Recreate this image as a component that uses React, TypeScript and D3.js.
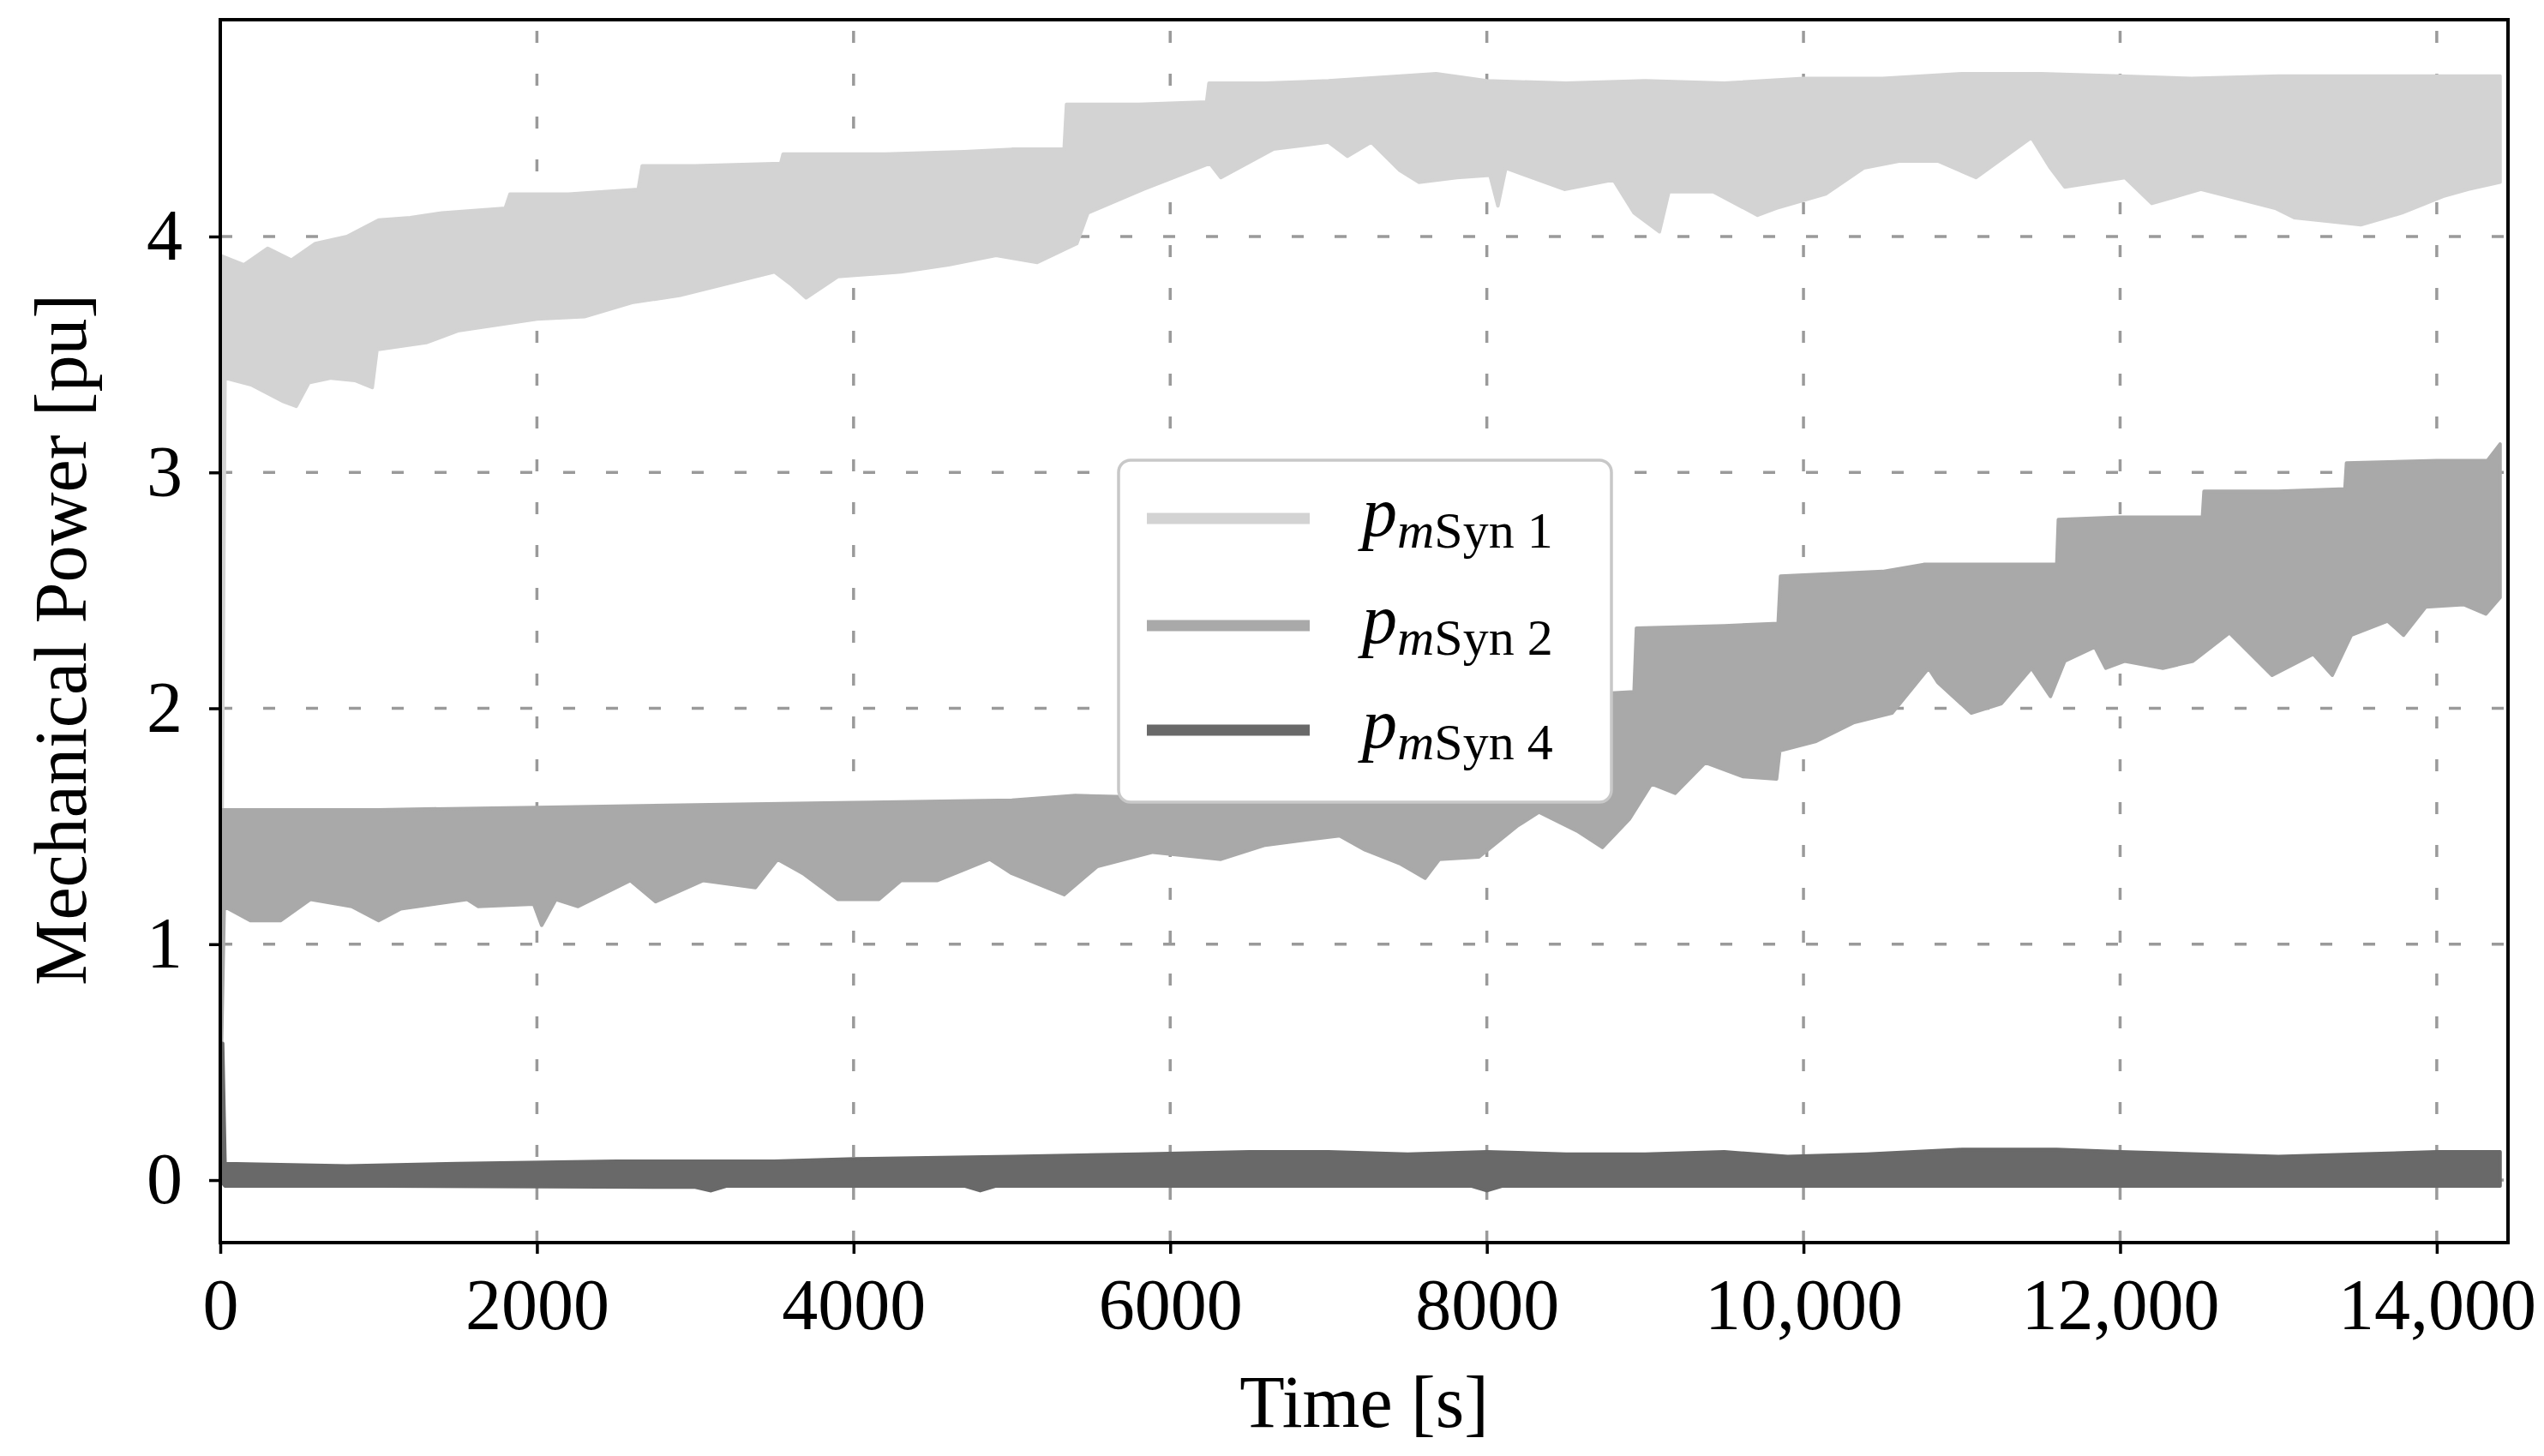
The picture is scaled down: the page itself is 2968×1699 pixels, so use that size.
import React, { useEffect, useRef } from "react";
import * as d3 from "d3";

type Pt = [number, number];

// axis ticks
const xTicks = [0, 2000, 4000, 6000, 8000, 10000, 12000, 14000];
const xTickLabels = ["0", "2000", "4000", "6000", "8000", "10,000", "12,000", "14,000"];
const yTicks = [0, 1, 2, 3, 4];

const seriesNames = ["Syn 1", "Syn 2", "Syn 4"];
const seriesColors = ["#d3d3d3", "#a9a9a9", "#696969"];

// envelopes of the bundle of traces, [time s, power pu]
const syn1Upper: Pt[] = [
  [0, 3.92], [150, 3.88], [300, 3.95], [450, 3.9], [600, 3.97], [800, 4.0], [1000, 4.07],
  [1200, 4.08], [1400, 4.1], [1800, 4.12], [1830, 4.18], [2200, 4.18], [2640, 4.2],
  [2665, 4.3], [3000, 4.3], [3540, 4.31], [3555, 4.35], [4200, 4.35], [4700, 4.36],
  [5000, 4.37], [5330, 4.37], [5345, 4.56], [5800, 4.56], [6230, 4.57], [6245, 4.65],
  [6600, 4.65], [7000, 4.66], [7680, 4.69], [8000, 4.66], [8500, 4.65], [9000, 4.66],
  [9500, 4.65], [10000, 4.67], [10500, 4.67], [11000, 4.69], [11500, 4.69], [12000, 4.68],
  [12450, 4.67], [13000, 4.68], [13500, 4.68], [14000, 4.68], [14400, 4.68],
];
const syn1Lower: Pt[] = [
  [0, 0.3], [30, 3.4], [200, 3.37], [400, 3.3], [480, 3.28], [560, 3.38], [700, 3.4],
  [850, 3.39], [960, 3.36], [990, 3.52], [1300, 3.55], [1500, 3.6], [1700, 3.62],
  [2000, 3.65], [2300, 3.66], [2600, 3.72], [2900, 3.75], [3200, 3.8], [3500, 3.85],
  [3600, 3.8], [3700, 3.74], [3900, 3.83], [4300, 3.85], [4600, 3.88], [4900, 3.92],
  [5160, 3.89], [5410, 3.97], [5480, 4.1], [5830, 4.2], [6250, 4.31], [6320, 4.25],
  [6650, 4.37], [7000, 4.4], [7120, 4.34], [7270, 4.4], [7450, 4.28], [7570, 4.23],
  [7810, 4.25], [8020, 4.26], [8070, 4.13], [8120, 4.29], [8490, 4.2], [8800, 4.24],
  [8930, 4.1], [9090, 4.02], [9150, 4.19], [9430, 4.19], [9710, 4.09], [9830, 4.12],
  [10140, 4.18], [10380, 4.29], [10610, 4.32], [10850, 4.32], [11090, 4.25], [11440, 4.42],
  [11560, 4.29], [11650, 4.21], [12030, 4.25], [12200, 4.14], [12510, 4.2], [12980, 4.12],
  [13100, 4.08], [13520, 4.05], [13780, 4.1], [14040, 4.17], [14200, 4.2], [14400, 4.23],
];

const syn2Upper: Pt[] = [
  [0, 1.57], [1000, 1.57], [2000, 1.58], [3000, 1.59], [4000, 1.6], [5000, 1.61],
  [5400, 1.63], [6000, 1.62], [6800, 1.62], [7600, 1.62], [8300, 1.62], [8400, 2.05],
  [8930, 2.07], [8945, 2.34], [9500, 2.35], [9840, 2.36], [9855, 2.56], [10500, 2.58],
  [10760, 2.61], [11600, 2.61], [11610, 2.8], [12000, 2.81], [12520, 2.81], [12530, 2.92],
  [13000, 2.92], [13420, 2.93], [13430, 3.04], [14000, 3.05], [14320, 3.05], [14400, 3.12],
];
const syn2Lower: Pt[] = [
  [0, 0.3], [25, 1.16], [190, 1.1], [380, 1.1], [570, 1.19], [830, 1.16], [1000, 1.1],
  [1140, 1.15], [1560, 1.19], [1630, 1.16], [1980, 1.17], [2030, 1.08], [2120, 1.19],
  [2260, 1.16], [2590, 1.27], [2750, 1.18], [3050, 1.27], [3380, 1.24], [3520, 1.36],
  [3680, 1.3], [3900, 1.19], [4160, 1.19], [4300, 1.27], [4530, 1.27], [4860, 1.36],
  [5000, 1.3], [5330, 1.21], [5540, 1.33], [5890, 1.39], [6320, 1.36], [6600, 1.42],
  [7070, 1.46], [7230, 1.4], [7456, 1.34], [7610, 1.28], [7700, 1.36], [7950, 1.37],
  [8190, 1.5], [8330, 1.56], [8570, 1.48], [8730, 1.41], [8900, 1.53], [9040, 1.68],
  [9190, 1.64], [9380, 1.77], [9620, 1.71], [9830, 1.7], [9850, 1.82], [10080, 1.86],
  [10320, 1.94], [10560, 1.98], [10790, 2.17], [10848, 2.11], [11060, 1.98], [11250, 2.02],
  [11440, 2.17], [11560, 2.05], [11650, 2.2], [11840, 2.26], [11910, 2.17], [12030, 2.2],
  [12270, 2.17], [12460, 2.2], [12690, 2.32], [12960, 2.14], [13220, 2.23], [13340, 2.14],
  [13460, 2.31], [13690, 2.37], [13790, 2.31], [13930, 2.43], [14170, 2.44], [14310, 2.4],
  [14400, 2.47],
];

const syn4Upper: Pt[] = [
  [0, 0.58], [15, 0.58], [30, 0.07], [800, 0.06], [1500, 0.07], [2500, 0.08], [3500, 0.08],
  [4000, 0.09], [5000, 0.1], [5800, 0.11], [6500, 0.12], [7000, 0.12], [7500, 0.11],
  [8000, 0.12], [8500, 0.11], [9000, 0.11], [9500, 0.12], [9900, 0.1], [10400, 0.11],
  [11000, 0.13], [11600, 0.13], [12000, 0.12], [12500, 0.11], [13000, 0.1], [13500, 0.11],
  [14000, 0.12], [14400, 0.12],
];
const syn4Lower: Pt[] = [
  [0, 0], [30, -0.025], [1000, -0.025], [3000, -0.03], [3100, -0.045], [3200, -0.025],
  [4700, -0.025], [4800, -0.045], [4900, -0.025], [7900, -0.025], [8000, -0.045], [8100, -0.025],
  [14400, -0.025],
];

const bands: [Pt[], Pt[]][] = [
  [syn1Upper, syn1Lower],
  [syn2Upper, syn2Lower],
  [syn4Upper, syn4Lower],
];

const W = 2968;
const H = 1699;
const plot = { left: 257, right: 2926, top: 23, bottom: 1450 };
const FONT = "'Liberation Serif', 'DejaVu Serif', serif";

const App: React.FC = () => {
  const svgRef = useRef<SVGSVGElement | null>(null);

  useEffect(() => {
    if (!svgRef.current) return;
    document.body.style.margin = "0";
    const svg = d3.select(svgRef.current);
    svg.selectAll("*").remove();

    const x = d3.scaleLinear().domain([0, 14450]).range([plot.left, plot.right]);
    const y = d3.scaleLinear().domain([-0.265, 4.919]).range([plot.bottom, plot.top]);

    svg.append("rect").attr("width", W).attr("height", H).attr("fill", "#fff");

    svg
      .append("defs")
      .append("clipPath")
      .attr("id", "plotClip")
      .append("rect")
      .attr("x", plot.left)
      .attr("y", plot.top)
      .attr("width", plot.right - plot.left)
      .attr("height", plot.bottom - plot.top);

    // grid
    const grid = svg.append("g").attr("stroke", "#9a9a9a").attr("stroke-width", 3.5).attr("stroke-dasharray", "14 36");
    grid
      .selectAll("line.gx")
      .data(xTicks.slice(1))
      .enter()
      .append("line")
      .attr("x1", (d) => x(d))
      .attr("x2", (d) => x(d))
      .attr("y1", plot.bottom)
      .attr("y2", plot.top);
    grid
      .selectAll("line.gy")
      .data(yTicks)
      .enter()
      .append("line")
      .attr("x1", plot.left)
      .attr("x2", plot.right)
      .attr("y1", (d) => y(d))
      .attr("y2", (d) => y(d));

    // bands
    const line = d3
      .line<Pt>()
      .x((d) => x(d[0]))
      .y((d) => y(d[1]));
    const data = svg.append("g").attr("clip-path", "url(#plotClip)");
    bands.forEach(([up, lo], i) => {
      data
        .append("path")
        .attr("d", line([...up, ...lo.slice().reverse()]) + "Z")
        .attr("fill", seriesColors[i])
        .attr("stroke", seriesColors[i])
        .attr("stroke-width", 4)
        .attr("stroke-linejoin", "round");
    });

    // axes
    const xAxis = svg
      .append("g")
      .attr("transform", `translate(0,${plot.bottom})`)
      .call(
        d3
          .axisBottom(x)
          .tickValues(xTicks)
          .tickFormat((_, i) => xTickLabels[i])
          .tickSize(13)
          .tickSizeOuter(0)
          .tickPadding(28)
      );
    const yAxis = svg
      .append("g")
      .attr("transform", `translate(${plot.left},0)`)
      .call(d3.axisLeft(y).tickValues(yTicks).tickFormat(d3.format("d")).tickSize(13).tickSizeOuter(0).tickPadding(31));
    [xAxis, yAxis].forEach((g) => {
      g.select(".domain").remove();
      g.selectAll(".tick line").attr("stroke", "#000").attr("stroke-width", 3.5);
      g.selectAll(".tick text").attr("font-family", FONT).attr("font-size", 84).attr("fill", "#000");
    });

    svg
      .append("rect")
      .attr("x", plot.left)
      .attr("y", plot.top)
      .attr("width", plot.right - plot.left)
      .attr("height", plot.bottom - plot.top)
      .attr("fill", "none")
      .attr("stroke", "#000")
      .attr("stroke-width", 4);

    svg
      .append("text")
      .attr("x", (plot.left + plot.right) / 2)
      .attr("y", 1665)
      .attr("text-anchor", "middle")
      .attr("font-family", FONT)
      .attr("font-size", 86)
      .text("Time [s]");
    svg
      .append("text")
      .attr("transform", `translate(100,${(plot.top + plot.bottom) / 2 + 10}) rotate(-90)`)
      .attr("text-anchor", "middle")
      .attr("font-family", FONT)
      .attr("font-size", 86)
      .text("Mechanical Power [pu]");

    // legend
    const lg = svg.append("g");
    lg.append("rect")
      .attr("x", 1305)
      .attr("y", 537)
      .attr("width", 575)
      .attr("height", 399)
      .attr("rx", 14)
      .attr("fill", "#fff")
      .attr("stroke", "#c8c8c8")
      .attr("stroke-width", 3.5);
    const rowY = [605, 730, 852];
    seriesNames.forEach((name, i) => {
      lg.append("line")
        .attr("x1", 1338)
        .attr("x2", 1528)
        .attr("y1", rowY[i])
        .attr("y2", rowY[i])
        .attr("stroke", seriesColors[i])
        .attr("stroke-width", 13);
      const t = lg
        .append("text")
        .attr("x", 1589)
        .attr("y", rowY[i] + 20)
        .attr("font-family", FONT)
        .attr("font-size", 82);
      t.append("tspan").attr("font-style", "italic").text("p");
      t.append("tspan").attr("font-style", "italic").attr("font-size", 60).attr("dy", 14).text("m");
      t.append("tspan").attr("font-size", 60).text(name);
    });
  }, []);

  return <svg ref={svgRef} width={W} height={H} style={{ display: "block" }} />;
};

export default App;
